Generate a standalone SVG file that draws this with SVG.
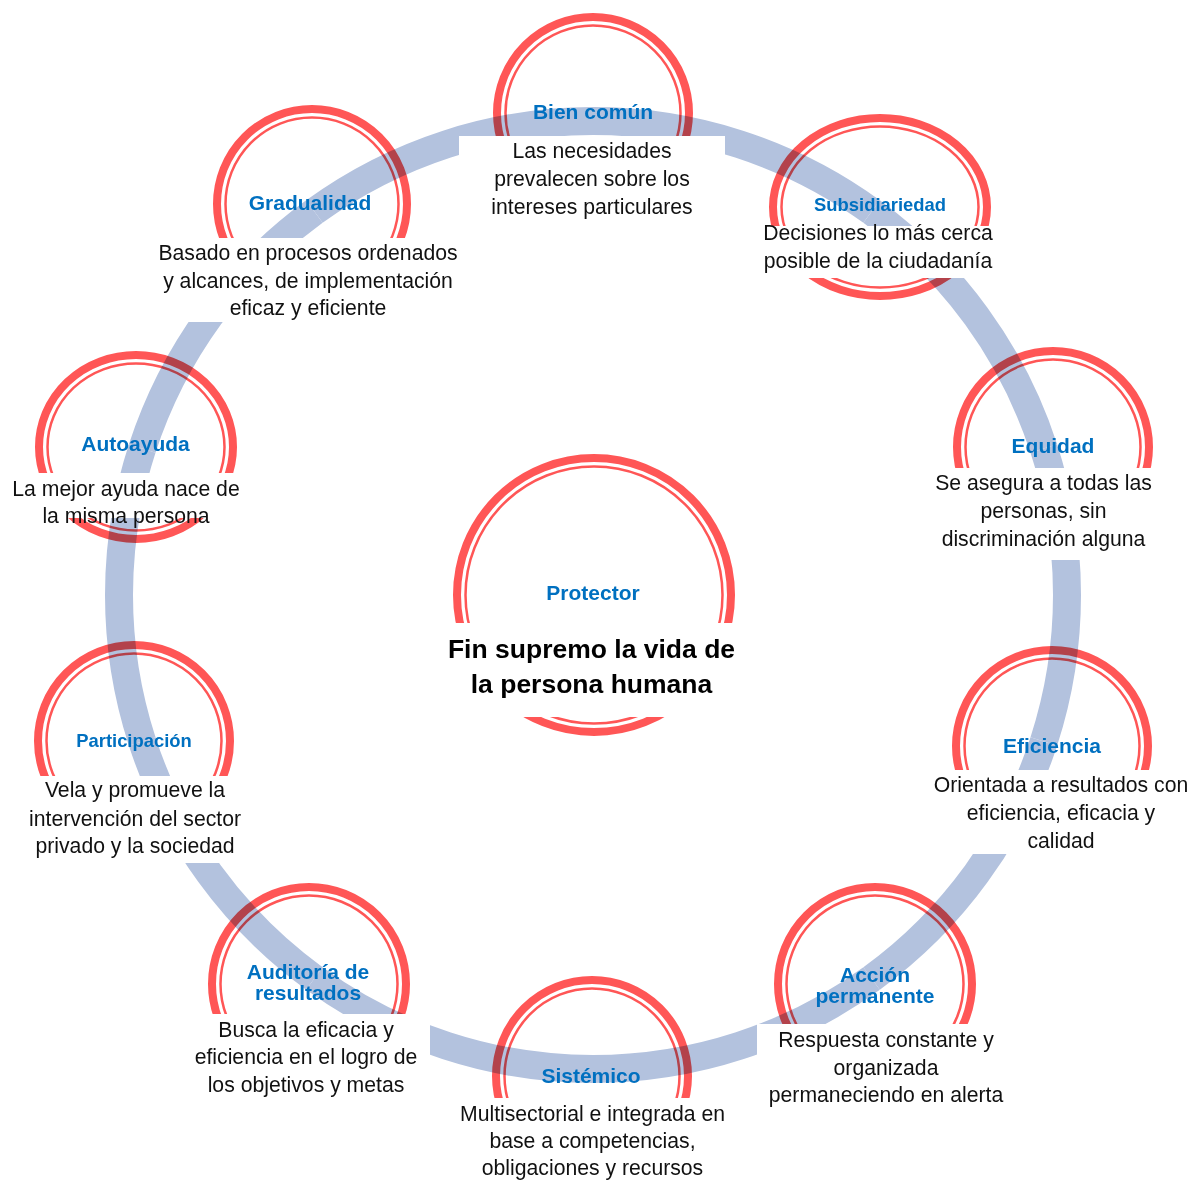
<svg xmlns="http://www.w3.org/2000/svg" width="1192" height="1180" viewBox="0 0 1192 1180">
<style>
.band{fill:none;stroke:#B3C2DE;stroke-width:28;stroke-linecap:butt}
.ro{fill:none;stroke:#FF5656;stroke-width:8;mix-blend-mode:multiply}
.ri{fill:none;stroke:#FF5656;stroke-width:2.5;mix-blend-mode:multiply}
.bg{fill:#FFFFFF}
.t{font-family:"Liberation Sans",Arial,sans-serif;font-weight:bold;font-size:21px;fill:#0070C0;text-anchor:middle}
.ts{font-size:18.4px}
.d{font-family:"Liberation Sans",Arial,sans-serif;font-size:21.2px;fill:#111111;text-anchor:middle}
.c{font-family:"Liberation Sans",Arial,sans-serif;font-weight:bold;font-size:26.5px;fill:#000000;text-anchor:middle}
</style>
<rect width="1192" height="1180" fill="#FFFFFF"/>
<g id="connectors">
<path class="band" d="M593,121 A474,474 0 0 1 871.61,211.53"/>
<path class="band" d="M871.61,211.53 A474,474 0 0 1 1043.80,448.53"/>
<path class="band" d="M1043.80,448.53 A474,474 0 0 1 1043.80,741.47"/>
<path class="band" d="M1043.80,741.47 A474,474 0 0 1 871.61,978.47"/>
<path class="band" d="M871.61,978.47 A474,474 0 0 1 593,1069"/>
<path class="band" d="M593,1069 A474,474 0 0 1 314.39,978.47"/>
<path class="band" d="M314.39,978.47 A474,474 0 0 1 142.20,741.47"/>
<path class="band" d="M142.20,741.47 A474,474 0 0 1 142.20,448.53"/>
<path class="band" d="M142.20,448.53 A474,474 0 0 1 314.39,211.53"/>
<path class="band" d="M314.39,211.53 A474,474 0 0 1 593,121"/>
</g>
<g id="node-protector">
<circle class="ro" cx="594" cy="595" r="137"/>
<circle class="ri" cx="594" cy="595" r="128.5"/>
<text class="t" x="593" y="600">Protector</text>
<rect class="bg" x="440" y="623" width="310" height="94"/>
<text class="c" x="591.5" y="658">Fin supremo la vida de</text>
<text class="c" x="591.5" y="693">la persona humana</text>
</g>
<g id="node-bien-comun">
<circle class="ro" cx="593" cy="113" r="96"/>
<circle class="ri" cx="593" cy="113" r="87.5"/>
<text class="t" x="593" y="119">Bien común</text>
<rect class="bg" x="459" y="136" width="266" height="86"/>
<text class="d" x="592" y="158">Las necesidades</text>
<text class="d" x="592" y="186">prevalecen sobre los</text>
<text class="d" x="592" y="214">intereses particulares</text>
</g>
<g id="node-subsidiariedad">
<ellipse class="ro" cx="880" cy="207" rx="107" ry="89"/>
<ellipse class="ri" cx="880" cy="207" rx="98.5" ry="80.5"/>
<text class="t ts" x="880" y="211">Subsidiariedad</text>
<rect class="bg" x="762" y="226" width="236" height="52"/>
<text class="d" x="878" y="240">Decisiones lo más cerca</text>
<text class="d" x="878" y="268">posible de la ciudadanía</text>
</g>
<g id="node-equidad">
<circle class="ro" cx="1053" cy="447" r="96"/>
<circle class="ri" cx="1053" cy="447" r="87.5"/>
<text class="t" x="1053" y="453">Equidad</text>
<rect class="bg" x="930" y="468" width="227" height="92"/>
<text class="d" x="1043.5" y="490">Se asegura a todas las</text>
<text class="d" x="1043.5" y="518">personas, sin</text>
<text class="d" x="1043.5" y="546">discriminación alguna</text>
</g>
<g id="node-eficiencia">
<circle class="ro" cx="1052" cy="746" r="96"/>
<circle class="ri" cx="1052" cy="746" r="87.5"/>
<text class="t" x="1052" y="753">Eficiencia</text>
<rect class="bg" x="929" y="770" width="263" height="84"/>
<text class="d" x="1061" y="792">Orientada a resultados con</text>
<text class="d" x="1061" y="820">eficiencia, eficacia y</text>
<text class="d" x="1061" y="848">calidad</text>
</g>
<g id="node-accion-permanente">
<circle class="ro" cx="875" cy="984" r="97"/>
<circle class="ri" cx="875" cy="984" r="88.5"/>
<text class="t" x="875" y="982">Acción</text>
<text class="t" x="875" y="1003">permanente</text>
<rect class="bg" x="757" y="1024" width="255" height="86"/>
<text class="d" x="886" y="1047">Respuesta constante y</text>
<text class="d" x="886" y="1074.5">organizada</text>
<text class="d" x="886" y="1102">permaneciendo en alerta</text>
</g>
<g id="node-sistemico">
<circle class="ro" cx="592" cy="1076" r="96"/>
<circle class="ri" cx="592" cy="1076" r="87.5"/>
<text class="t" x="591" y="1083">Sistémico</text>
<rect class="bg" x="450" y="1098" width="285" height="82"/>
<text class="d" x="592.5" y="1121">Multisectorial e integrada en</text>
<text class="d" x="592.5" y="1148">base a competencias,</text>
<text class="d" x="592.5" y="1175">obligaciones y recursos</text>
</g>
<g id="node-auditoria">
<circle class="ro" cx="309" cy="984" r="97"/>
<circle class="ri" cx="309" cy="984" r="88.5"/>
<text class="t" x="308" y="979">Auditoría de</text>
<text class="t" x="308" y="1000">resultados</text>
<rect class="bg" x="188" y="1014" width="242" height="86"/>
<text class="d" x="306" y="1037">Busca la eficacia y</text>
<text class="d" x="306" y="1064">eficiencia en el logro de</text>
<text class="d" x="306" y="1092">los objetivos y metas</text>
</g>
<g id="node-participacion">
<circle class="ro" cx="134" cy="741" r="96"/>
<circle class="ri" cx="134" cy="741" r="87.5"/>
<text class="t ts" x="134" y="747">Participación</text>
<rect class="bg" x="22" y="776" width="226" height="87"/>
<text class="d" x="135" y="797">Vela y promueve la</text>
<text class="d" x="135" y="826">intervención del sector</text>
<text class="d" x="135" y="853">privado y la sociedad</text>
</g>
<g id="node-autoayuda">
<ellipse class="ro" cx="136" cy="447" rx="97" ry="92"/>
<ellipse class="ri" cx="136" cy="447" rx="88.5" ry="83.5"/>
<text class="t" x="135.5" y="451">Autoayuda</text>
<rect class="bg" x="8" y="473" width="240" height="45"/>
<text class="d" x="126" y="496">La mejor ayuda nace de</text>
<text class="d" x="126" y="523">la misma persona</text>
</g>
<g id="node-gradualidad">
<circle class="ro" cx="312" cy="204" r="95"/>
<circle class="ri" cx="312" cy="204" r="86.5"/>
<text class="t" x="310" y="210">Gradualidad</text>
<rect class="bg" x="150" y="238" width="316" height="84"/>
<text class="d" x="308" y="260">Basado en procesos ordenados</text>
<text class="d" x="308" y="288">y alcances, de implementación</text>
<text class="d" x="308" y="315">eficaz y eficiente</text>
</g>
</svg>
